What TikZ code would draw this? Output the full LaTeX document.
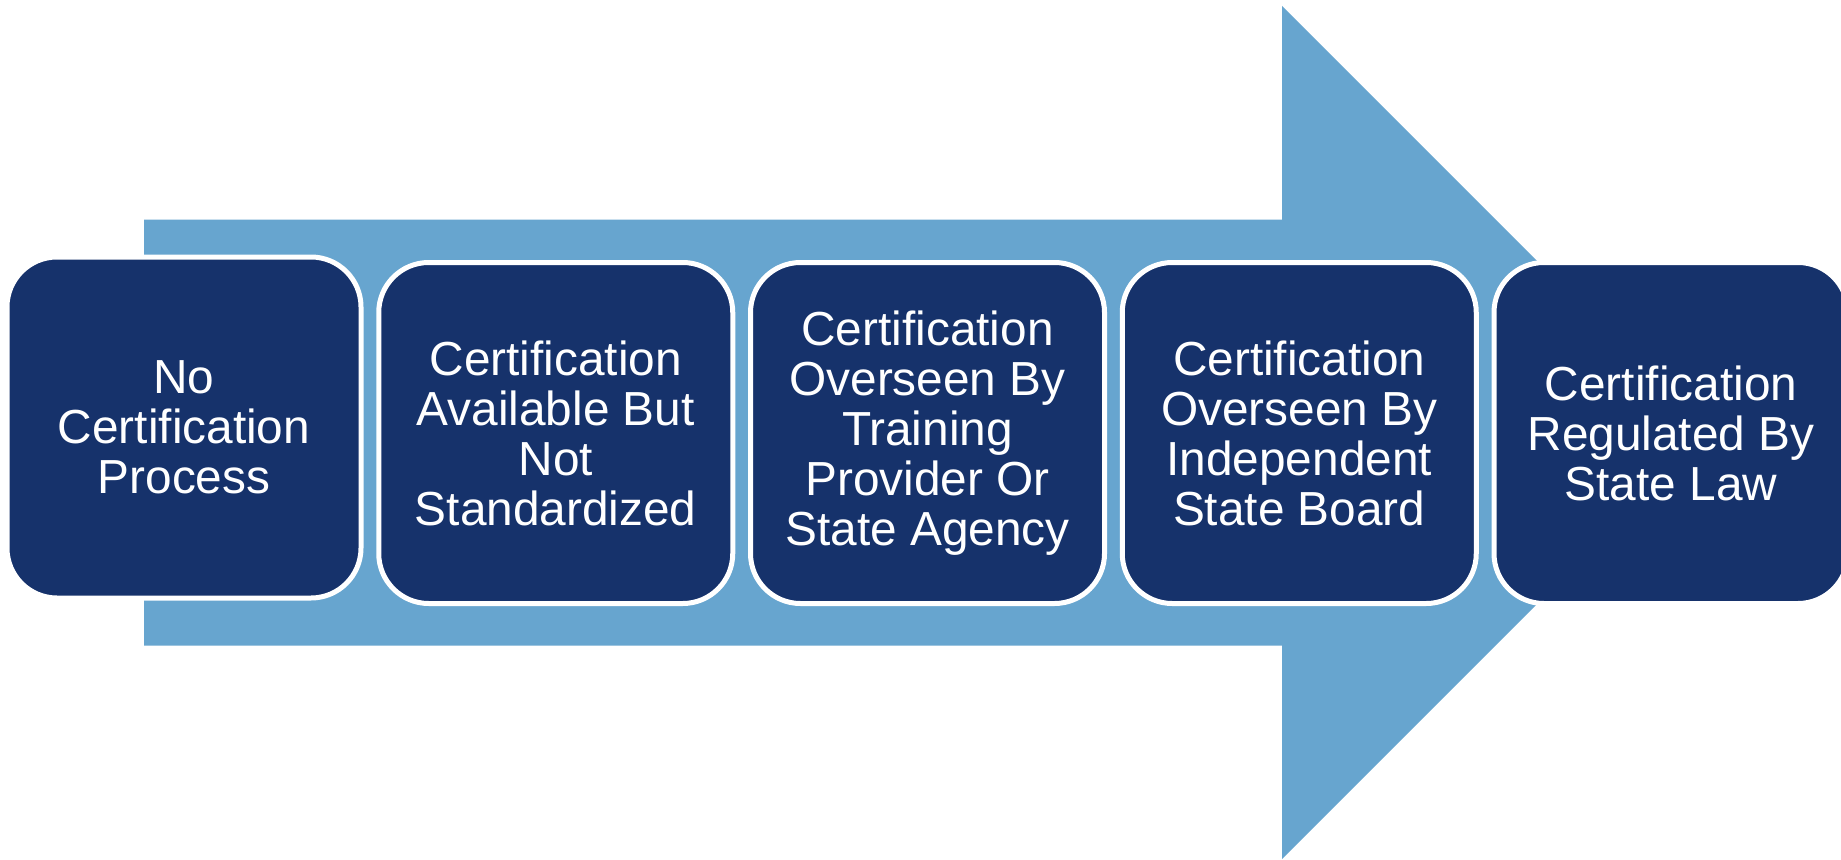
\documentclass[tikz,border=0pt]{standalone}
\usepackage{fontspec}
\setmainfont{Liberation Sans}
\definecolor{navy}{RGB}{22,50,107}
\definecolor{lightblue}{RGB}{103,165,207}
\begin{document}
\begin{tikzpicture}[x=1pt,y=-1pt,
  stage/.style={draw=white, line width=5pt, fill=navy, rounded corners=50pt,
    minimum width=354pt, minimum height=341pt, inner sep=0pt, align=center,
    text=white, font=\fontsize{47.8}{50}\selectfont}]
\useasboundingbox (0,0) rectangle (1841,859);
\fill[white] (0,0) rectangle (1841,859);
% big arrow
\fill[lightblue] (144,219.5) -- (1282,219.5) -- (1282,6) -- (1708.5,432.5)
  -- (1282,859) -- (1282,645.5) -- (144,645.5) -- cycle;
\node[stage] (s1) at (184,427.5) {No\\Certification\\Process};
\node[stage] (s2) at (555.75,433) {Certification\\Available But\\Not\\Standardized};
\node[stage] (s3) at (927.5,433) {Certification\\Overseen By\\Training\\Provider Or\\State Agency};
\node[stage] (s4) at (1299.25,433) {Certification\\Overseen By\\Independent\\State Board};
\node[stage] (s5) at (1671,433) {Certification\\Regulated By\\State Law};
\end{tikzpicture}
\end{document}
